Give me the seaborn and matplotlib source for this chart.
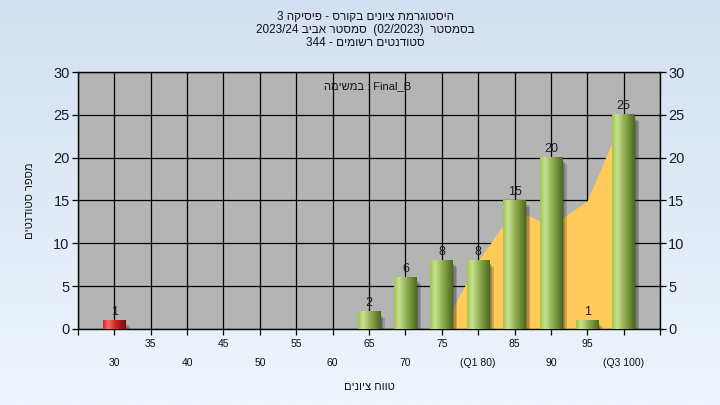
import re
import numpy as np
import pandas as pd
import matplotlib
matplotlib.use('Agg')
import matplotlib.pyplot as plt
from matplotlib.colors import LinearSegmentedColormap
from matplotlib.patches import Rectangle
import seaborn as sns

# data
grades = [30, 65, 70, 75, 80, 85, 90, 95, 100]
counts = [1, 2, 6, 8, 8, 15, 20, 1, 25]
area_x = [75, 80, 85, 90, 95, 100]
area_y = [0, 8, 14, 12, 15, 25]
major_ticks = [30, 40, 50, 60, 70, 80, 90, 100]
major_labels = ['30', '40', '50', '60', '70', '(Q1 80)', '90', '(Q3 100)']
minor_ticks = [25, 35, 45, 55, 65, 75, 85, 95, 105]
minor_labels = ['', '35', '45', '55', '65', '75', '85', '95', '']
title_lines = ['היסטוגרמת ציונים בקורס - פיסיקה 3',
               'בסמסטר  (02/2023)  סמסטר אביב 2023/24',
               'סטודנטים רשומים - 344']
task_label = 'Final_B : במשימה'
x_title = 'טווח ציונים'
y_title = 'מספר סטודנטים'
pass_grade = 55


def vis(s):
    # crude right-to-left reordering for matplotlib (no bidi support)
    r = s[::-1]
    return re.sub(r'[0-9A-Za-z_/.()]+', lambda m: m.group(0)[::-1], r)


sns.set_theme(style='white')
plt.rcParams['font.family'] = ['Liberation Sans', 'DejaVu Sans']

fig = plt.figure(figsize=(7.2, 4.05), dpi=100)

# background gradient
bg = fig.add_axes([0, 0, 1, 1], zorder=-10)
bg_cmap = LinearSegmentedColormap.from_list('bg', ['#eef5fc', '#d3e0f1'])
bg.imshow(np.linspace(0, 1, 256).reshape(-1, 1)[::-1], cmap=bg_cmap,
          aspect='auto', extent=[0, 1, 0, 1])
bg.axis('off')

ax = fig.add_axes([0.1083, 0.1877, 0.8084, 0.6345])
ax.set_facecolor('#b4b4b4')
ax.set_axisbelow(True)

df = pd.DataFrame({'grade': grades, 'count': counts})
sns.barplot(data=df, x='grade', y='count', native_scale=True, width=0.62,
            color='#9dc44d', errorbar=None, ax=ax, zorder=5)

# orange area behind bars
ax.fill_between(area_x, area_y, color='#ffca57', lw=0, zorder=2)

green = LinearSegmentedColormap.from_list(
    'g', [(0, '#9ec54e'), (0.22, '#c8e290'), (0.55, '#8fae4f'), (1, '#4c6820')])
red = LinearSegmentedColormap.from_list(
    'r', [(0, '#d82424'), (0.22, '#ff6b6b'), (0.55, '#c82525'), (1, '#7a0c0c')])
grad = np.linspace(0, 1, 64).reshape(1, -1)

bars = ax.containers[0]
for rect, g in zip(bars.patches, grades):
    x0, w, h = rect.get_x(), rect.get_width(), rect.get_height()
    # soft shadow
    for k, a in enumerate([0.2, 0.2, 0.2]):
        off = 0.2 + 0.2 * k
        ax.add_patch(Rectangle((x0 + off, -off * 0.9), w, h - 0.2, facecolor='#1a1a1a',
                               alpha=a, lw=0, zorder=3))
    rect.set_facecolor('none')
    rect.set_edgecolor('none')
    ax.imshow(grad, cmap=red if g < pass_grade else green, aspect='auto',
              extent=[x0, x0 + w, 0, h], zorder=4, interpolation='bilinear')

ax.bar_label(bars, padding=2, fontsize=9, color='#1a1a2a')

ax.set_xlim(25, 105)
ax.set_ylim(0, 30)
ax.set_aspect('auto')

ax.set_xticks(major_ticks, labels=major_labels)
ax.set_xticks(minor_ticks, labels=minor_labels, minor=True)
ax.set_yticks(range(0, 31, 5))
ax.grid(which='both', axis='both', color='black', lw=0.9)
ax.tick_params(axis='x', which='major', bottom=True, direction='out', length=4,
               width=0.9, color='black', pad=17, labelsize=7.5, labelcolor='#111111')
ax.tick_params(axis='x', which='minor', bottom=True, direction='out', length=4,
               width=0.9, color='black', pad=3.5, labelsize=7.5, labelcolor='#111111')
ax.tick_params(axis='y', left=True, right=True, labelleft=True, labelright=True,
               direction='out', length=4, width=0.9, color='black', pad=2,
               labelsize=10.5, labelcolor='#1b1b30')
for s in ax.spines.values():
    s.set_color('black')
    s.set_linewidth(1.0)

ax.set_xlabel(vis(x_title), fontsize=8, color='#111111')
ax.xaxis.set_label_coords(0.5, -0.205)
ax.set_ylabel(vis(y_title), fontsize=8, color='#111111')
ax.yaxis.set_label_coords(-0.074, 0.5)

ax.text(0.497, 0.945, vis(task_label), transform=ax.transAxes, ha='center',
        va='center', fontsize=8, color='#111111', zorder=6)

for i, line in enumerate(title_lines):
    fig.text(0.507, 0.958 - i * 0.032, vis(line), ha='center', va='center',
             fontsize=8.5, color='#111122')

fig.savefig('out.png', dpi=100)
